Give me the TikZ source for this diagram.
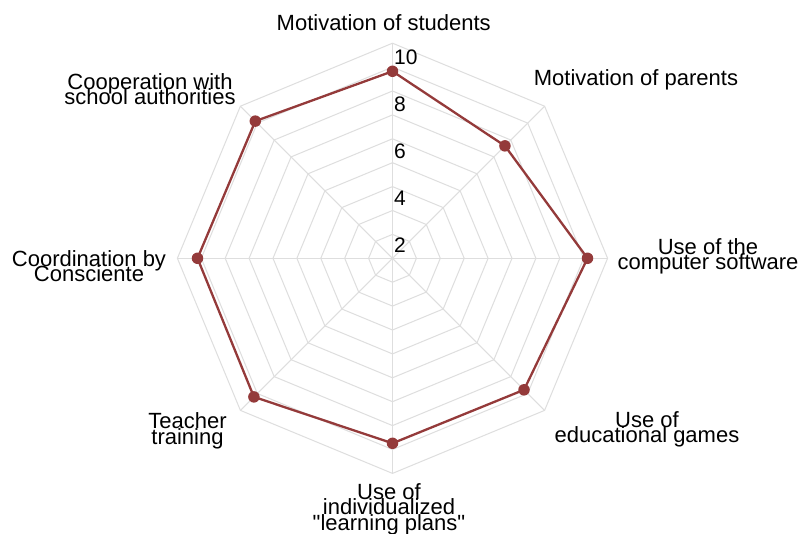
\documentclass[tikz,border=0pt]{standalone}
\usepackage{fontspec}
\setmainfont{Liberation Sans}[Ligatures=TeXOff]
\definecolor{gridgray}{RGB}{222,222,222}
\definecolor{datared}{RGB}{148,58,58}
\tikzset{
  gridline/.style={draw=gridgray, line width=1pt},
  dataline/.style={draw=datared, line width=2.3pt, line join=round},
  datadot/.style={circle, fill=datared, inner sep=0pt, minimum size=11.5pt},
  axislabel/.style={font={\fontsize{22}{15.5}\selectfont\lineskiplimit=-100pt}, align=center, inner sep=0pt, anchor=north},
  ticklabel/.style={font={\fontsize{21}{21}\selectfont}, inner sep=0pt, anchor=base west}
}
\begin{document}
\begin{tikzpicture}[x=1pt,y=1pt]
\useasboundingbox (-392.5,-275.7) rectangle (407.5,258.3);
\fill[white] (-392.5,-275.7) rectangle (407.5,258.3);
\coordinate (c) at (0,0);
% grid rings
\foreach \k in {1,...,9}{
  \pgfmathsetmacro{\r}{\k*23.9}
  \draw[gridline] (90:\r) -- (45:\r) -- (0:\r) -- (-45:\r) -- (-90:\r) -- (-135:\r) -- (180:\r) -- (135:\r) -- cycle;
}
% spokes
\foreach \a/\n in {90/s1,45/s2,0/s3,-45/s4,-90/s5,-135/s6,180/s7,135/s8}{
  \coordinate (\n) at (\a:215.1);
  \draw[gridline] (c) -- (\n);
}
% tick labels
\node[ticklabel] (t2) at (1.5,5.3) {2};
\node[ticklabel] (t4) at (1.5,52.3) {4};
\node[ticklabel] (t6) at (1.5,99.3) {6};
\node[ticklabel] (t8) at (1.5,146.3) {8};
\node[ticklabel] (t10) at (1.5,193.3) {10};
% data
\coordinate (p1) at (90:187);
\coordinate (p2) at (45:159);
\coordinate (p3) at (0:195);
\coordinate (p4) at (-45:186);
\coordinate (p5) at (-90:185);
\coordinate (p6) at (-135:196);
\coordinate (p7) at (180:195);
\coordinate (p8) at (135:194);
\draw[dataline] (p1) -- (p2) -- (p3) -- (p4) -- (p5) -- (p6) -- (p7) -- (p8) -- cycle;
\foreach \i in {1,...,8}{
  \node[datadot] (d\i) at (p\i) {};
}
% axis labels
\node[axislabel] (l1) at (-8.8,244.3) {Motivation of students};
\node[axislabel] (l2) at (243.5,189.3) {Motivation of parents};
\node[axislabel] (l3) at (315.5,20.3) {Use of the\\computer software};
\node[axislabel] (l4) at (254.5,-152.7) {Use of\\educational games};
\node[axislabel] (l5) at (-3.5,-224.7) {Use of\\individualized\\"learning plans"};
\node[axislabel] (l6) at (-205,-154.4) {Teacher\\training};
\node[axislabel] (l7) at (-303.5,8.3) {Coordination by\\Consciente};
\node[axislabel] (l8) at (-242.5,185.3) {Cooperation with\\school authorities};
\end{tikzpicture}
\end{document}
